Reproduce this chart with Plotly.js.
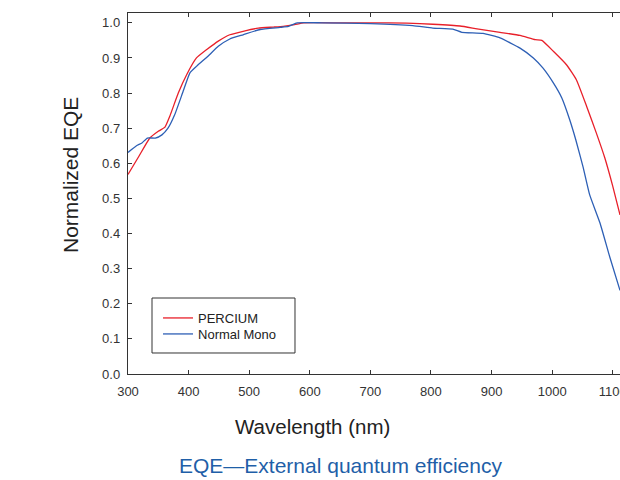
<!DOCTYPE html>
<html>
<head>
<meta charset="utf-8">
<script src="https://cdn.plot.ly/plotly-3.0.1.min.js"></script>
<style>html,body{margin:0;padding:0;overflow:hidden;background:#fff}#chart{width:620px;height:480px}</style>
</head>
<body>
<div id="chart"></div>
<script>
const perciumWl = [300,318,336,350,361,369,383,397,413,430,449,468,490,515,540,556,575,590,650,700,760,803,848,876,914,947,972,983,1002,1024,1040,1057,1073,1087,1100,1112];
const perciumEqe = [0.568,0.62,0.672,0.691,0.703,0.734,0.80,0.853,0.90,0.924,0.948,0.966,0.976,0.985,0.988,0.99,0.995,1.0,1.0,1.0,0.999,0.996,0.991,0.983,0.973,0.964,0.952,0.950,0.919,0.88,0.838,0.762,0.686,0.615,0.535,0.453];
const monoWl = [300,314,323,332,345,356,366,377,391,402,413,432,449,468,490,518,551,565,579,620,700,770,803,836,851,886,914,947,969,985,1002,1016,1029,1039,1051,1062,1079,1095,1112];
const monoEqe = [0.631,0.65,0.658,0.672,0.672,0.681,0.70,0.738,0.805,0.857,0.876,0.905,0.933,0.954,0.966,0.981,0.987,0.99,1.0,1.0,0.998,0.992,0.985,0.982,0.973,0.97,0.957,0.928,0.90,0.871,0.829,0.786,0.724,0.667,0.59,0.51,0.43,0.334,0.238];
const yTicks = [0,0.1,0.2,0.3,0.4,0.5,0.6,0.7,0.8,0.9,1.0];
const xTicks = [300,400,500,600,700,800,900,1000,1100];
const seriesNames = ['PERCIUM','Normal Mono'];

const font = 'Liberation Sans, Arial, sans-serif';
const traces = [
  {x: perciumWl, y: perciumEqe, name: seriesNames[0], mode: 'lines', line: {color: '#e8202a', width: 1.3, shape: 'spline', smoothing: 0.4}, legend: 'legend'},
  {x: monoWl, y: monoEqe, name: seriesNames[1], mode: 'lines', line: {color: '#2d5fb5', width: 1.3, shape: 'spline', smoothing: 0.4}, legend: 'legend2'}
];
const legendCommon = {xanchor: 'left', yanchor: 'top', bgcolor: 'rgba(0,0,0,0)', borderwidth: 0, font: {size: 13, color: '#222'}};
const layout = {
  width: 620, height: 480,
  margin: {l: 128, r: 0, t: 13, b: 106},
  paper_bgcolor: '#fff', plot_bgcolor: '#fff',
  font: {family: font, color: '#333', size: 13},
  showlegend: true,
  legend: Object.assign({x: 0.061, y: 0.1967}, legendCommon),
  legend2: Object.assign({x: 0.061, y: 0.1524}, legendCommon),
  xaxis: {range: [300, 1112], tickvals: xTicks, ticktext: xTicks.map(String), ticks: 'inside', ticklen: 4, tickcolor: '#333',
    showline: true, linecolor: '#333', linewidth: 1.2, mirror: 'ticks', showgrid: false, zeroline: false,
    ticklabeloverflow: 'allow', ticklabelstandoff: 5, tickfont: {size: 13, color: '#333'}},
  yaxis: {range: [0, 1.028], tickvals: yTicks, ticktext: yTicks.map(v => v.toFixed(1)), ticks: 'inside', ticklen: 4, tickcolor: '#333',
    showline: true, linecolor: '#333', linewidth: 1.2, mirror: false, showgrid: false, zeroline: false,
    ticklabelstandoff: 4, tickfont: {size: 13, color: '#333'}},
  shapes: [{type: 'rect', xref: 'paper', yref: 'paper', x0: 0.0488, x1: 0.3394, y0: 0.0582, y1: 0.2105, line: {color: '#333', width: 1}}],
  annotations: [
    {text: 'Normalized EQE', xref: 'paper', yref: 'paper', x: -0.118, y: 0.551, xanchor: 'center', yanchor: 'middle', textangle: -90, showarrow: false, font: {size: 21, color: '#222'}},
    {text: 'Wavelength (nm)', xref: 'paper', yref: 'paper', x: 0.374, y: -0.146, xanchor: 'center', yanchor: 'middle', showarrow: false, font: {size: 20.5, color: '#222'}},
    {text: 'EQE\u2014External quantum efficiency', xref: 'paper', yref: 'paper', x: 0.431, y: -0.254, xanchor: 'center', yanchor: 'middle', showarrow: false, font: {size: 21, color: '#1f5fa8'}}
  ]
};
Plotly.newPlot('chart', traces, layout, {staticPlot: true, displayModeBar: false});
</script>
</body>
</html>
